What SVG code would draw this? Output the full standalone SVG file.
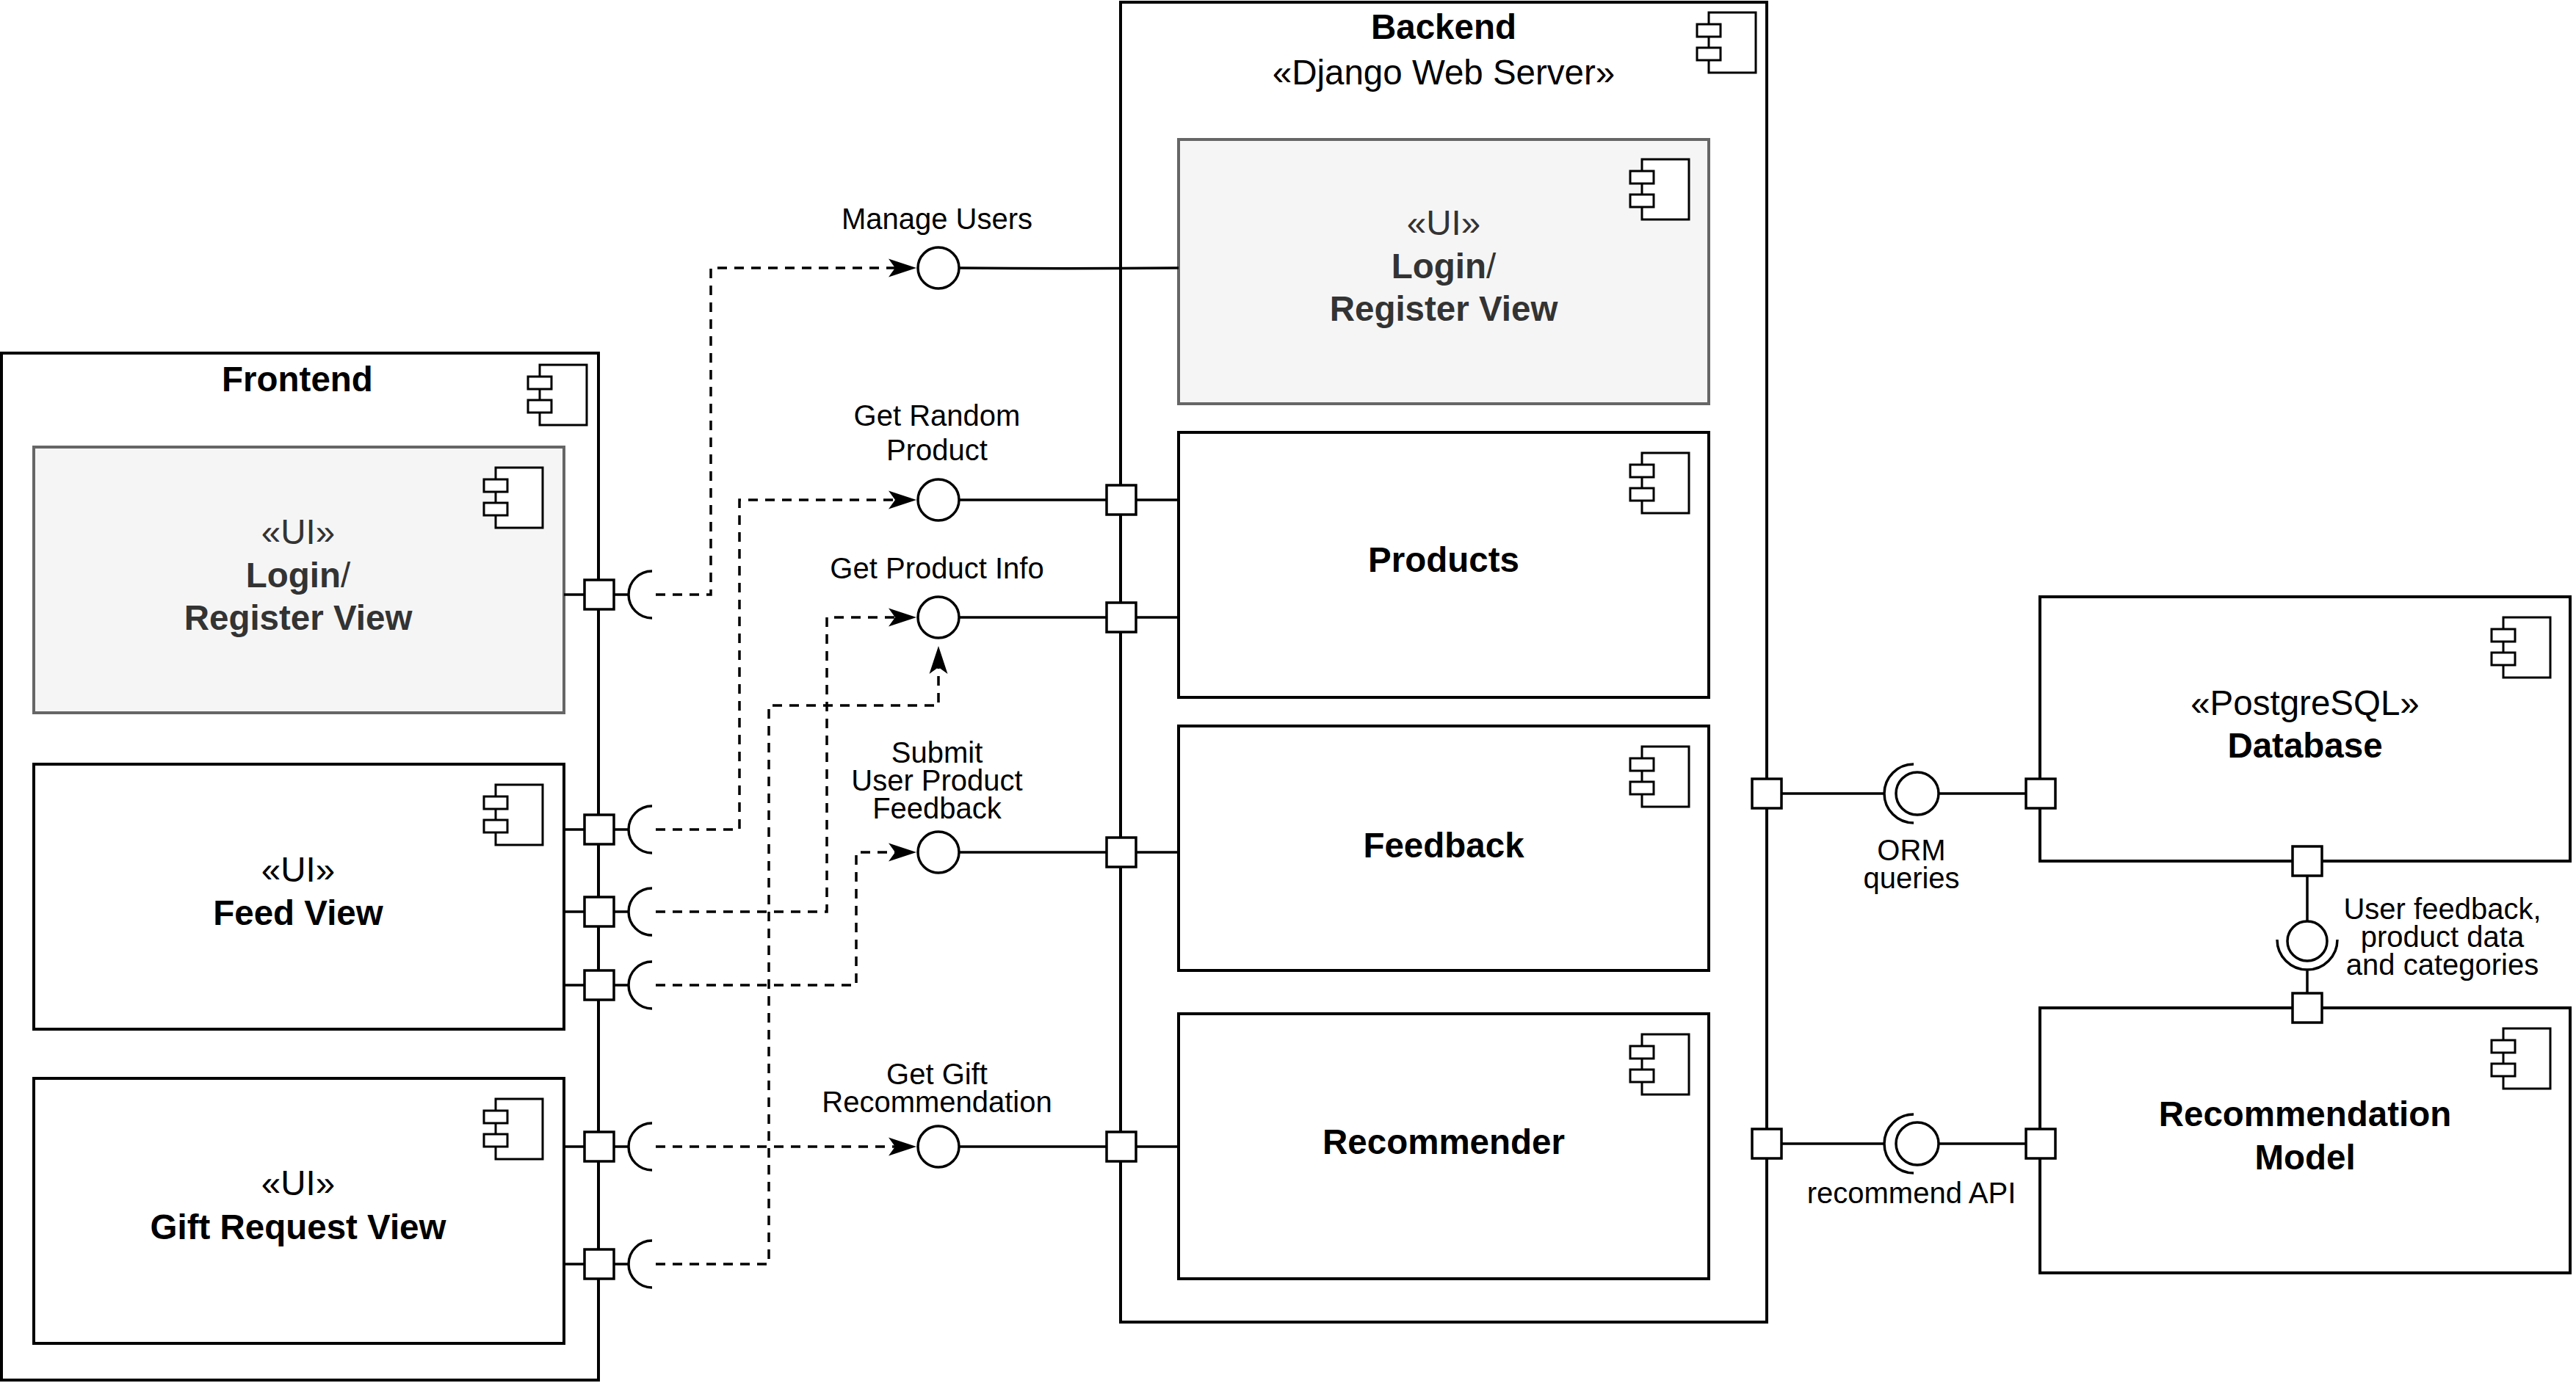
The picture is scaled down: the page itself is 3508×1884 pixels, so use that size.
<svg xmlns="http://www.w3.org/2000/svg" xmlns:xlink="http://www.w3.org/1999/xlink" width="3508" height="1884" viewBox="0 0 3508 1884">
<style>
 .box{fill:#fff;stroke:#000;stroke-width:4}
 .gray{fill:#f5f5f5;stroke:#666;stroke-width:4}
 .ln{fill:none;stroke:#000;stroke-width:3.5}
 .dash{fill:none;stroke:#000;stroke-width:3.5;stroke-dasharray:13 10}
 .port{fill:#fff;stroke:#000;stroke-width:3.5}
 .ball{fill:#fff;stroke:#000;stroke-width:3.5}
 text{font-family:"Liberation Sans",Arial,Helvetica,sans-serif;fill:#000}
 .t{font-size:47.5px;text-anchor:middle}
 .b{font-weight:bold}
 .g{fill:#333}
 .e{font-size:40px;text-anchor:middle}
</style>
<defs>
 <marker id="arr" viewBox="0 0 40 26" markerUnits="userSpaceOnUse" markerWidth="40" markerHeight="26" refX="9" refY="13" orient="auto">
  <path d="M38,13 L0,0.5 L9,13 L0,25.5 Z" fill="#000"/>
 </marker>
 <g id="icon">
  <rect x="0" y="0" width="64" height="82" fill="#fff" stroke="#000" stroke-width="3"/>
  <rect x="-16" y="16" width="32" height="17" fill="#fff" stroke="#000" stroke-width="3"/>
  <rect x="-16" y="48" width="32" height="17" fill="#fff" stroke="#000" stroke-width="3"/>
 </g>
</defs>
<rect x="0" y="0" width="3508" height="1884" fill="#fff"/>

<!-- Frontend -->
<g id="frontend">
 <rect x="2" y="481" width="813" height="1399" class="box"/>
 <text x="405" y="533" class="t b">Frontend</text>
 <use xlink:href="#icon" href="#icon" x="735" y="497"/>
</g>
<g id="fe-login">
 <rect x="46" y="609" width="722" height="362" class="gray"/>
 <use xlink:href="#icon" href="#icon" x="675" y="637"/>
 <text class="t g" x="406" y="741">«UI»</text>
 <text class="t g" x="406" y="799.5"><tspan class="b">Login</tspan>/</text>
 <text class="t b g" x="406" y="858">Register View</text>
</g>
<g id="fe-feed">
 <rect x="46" y="1041" width="722" height="361" class="box"/>
 <use xlink:href="#icon" href="#icon" x="675" y="1069"/>
 <text class="t" x="406" y="1201">«UI»</text>
 <text class="t b" x="406" y="1260">Feed View</text>
</g>
<g id="fe-gift">
 <rect x="46" y="1469" width="722" height="361" class="box"/>
 <use xlink:href="#icon" href="#icon" x="675" y="1497"/>
 <text class="t" x="406" y="1628">«UI»</text>
 <text class="t b" x="406" y="1688">Gift Request View</text>
</g>
<g id="fe-ports">
 <rect x="796" y="790" width="40" height="40" class="port"/>
 <rect x="796" y="1110" width="40" height="40" class="port"/>
 <rect x="796" y="1222" width="40" height="40" class="port"/>
 <rect x="796" y="1322" width="40" height="40" class="port"/>
 <rect x="796" y="1542" width="40" height="40" class="port"/>
 <rect x="796" y="1702" width="40" height="40" class="port"/>
</g>

<!-- Backend -->
<g id="backend">
 <rect x="1526" y="3" width="880" height="1798" class="box"/>
 <text x="1966" y="53" class="t b">Backend</text>
 <text x="1966" y="115" class="t">«Django Web Server»</text>
 <use xlink:href="#icon" href="#icon" x="2327" y="17"/>
</g>
<g id="be-login">
 <rect x="1605" y="190" width="722" height="360" class="gray"/>
 <use xlink:href="#icon" href="#icon" x="2236" y="217"/>
 <text class="t g" x="1966" y="320">«UI»</text>
 <text class="t g" x="1966" y="379"><tspan class="b">Login</tspan>/</text>
 <text class="t b g" x="1966" y="437">Register View</text>
</g>
<g id="products">
 <rect x="1605" y="589" width="722" height="361" class="box"/>
 <use xlink:href="#icon" href="#icon" x="2236" y="617"/>
 <text class="t b" x="1966" y="779">Products</text>
</g>
<g id="feedback">
 <rect x="1605" y="989" width="722" height="333" class="box"/>
 <use xlink:href="#icon" href="#icon" x="2236" y="1017"/>
 <text class="t b" x="1966" y="1168">Feedback</text>
</g>
<g id="recommender">
 <rect x="1605" y="1381" width="722" height="361" class="box"/>
 <use xlink:href="#icon" href="#icon" x="2236" y="1409"/>
 <text class="t b" x="1966" y="1572">Recommender</text>
</g>
<g id="be-ports">
 <rect x="1507" y="661" width="40" height="40" class="port"/>
 <rect x="1507" y="821" width="40" height="40" class="port"/>
 <rect x="1507" y="1141" width="40" height="40" class="port"/>
 <rect x="1507" y="1542" width="40" height="40" class="port"/>
 <rect x="2386" y="1061" width="40" height="40" class="port"/>
 <rect x="2386" y="1538" width="40" height="40" class="port"/>
</g>

<!-- Database -->
<g id="database">
 <rect x="2778" y="813" width="722" height="360" class="box"/>
 <use xlink:href="#icon" href="#icon" x="3409" y="841"/>
 <text class="t" x="3139" y="974">«PostgreSQL»</text>
 <text class="t b" x="3139" y="1032">Database</text>
 <rect x="2759" y="1061" width="40" height="40" class="port"/>
 <rect x="3122" y="1153" width="40" height="40" class="port"/>
</g>

<!-- Recommendation Model -->
<g id="rec-model">
 <rect x="2778" y="1373" width="722" height="361" class="box"/>
 <use xlink:href="#icon" href="#icon" x="3409" y="1401"/>
 <text class="t b" x="3139" y="1534">Recommendation</text>
 <text class="t b" x="3139" y="1593">Model</text>
 <rect x="2759" y="1538" width="40" height="40" class="port"/>
 <rect x="3122" y="1353" width="40" height="40" class="port"/>
</g>

<!-- Connectors -->
<g id="connectors">
 <!-- frontend port stubs and sockets -->
 <path class="ln" d="M768,810 H796 M836,810 H856 M888,778 A32,32 0 0 0 888,842"/>
 <path class="ln" d="M768,1130 H796 M836,1130 H856 M888,1098 A32,32 0 0 0 888,1162"/>
 <path class="ln" d="M768,1242 H796 M836,1242 H856 M888,1210 A32,32 0 0 0 888,1274"/>
 <path class="ln" d="M768,1342 H796 M836,1342 H856 M888,1310 A32,32 0 0 0 888,1374"/>
 <path class="ln" d="M768,1562 H796 M836,1562 H856 M888,1530 A32,32 0 0 0 888,1594"/>
 <path class="ln" d="M768,1722 H796 M836,1722 H856 M888,1690 A32,32 0 0 0 888,1754"/>

 <!-- dashed dependencies -->
 <path class="dash" d="M893,810 H968 V365 H1219" marker-end="url(#arr)"/>
 <path class="dash" d="M893,1130 H1007 V681 H1219" marker-end="url(#arr)"/>
 <path class="dash" d="M893,1242 H1126 V841 H1219" marker-end="url(#arr)"/>
 <path class="dash" d="M893,1342 H1166 V1161 H1219" marker-end="url(#arr)"/>
 <path class="dash" d="M893,1562 H1219" marker-end="url(#arr)"/>
 <path class="dash" d="M893,1722 H1047 V961 H1278 V909" marker-end="url(#arr)"/>

 <!-- provided interfaces of backend -->
 <path class="ln" d="M1306,365 C1420,366 1480,366 1605,365"/>
 <path class="ln" d="M1306,681 H1507 M1547,681 H1605"/>
 <path class="ln" d="M1306,841 H1507 M1547,841 H1605"/>
 <path class="ln" d="M1306,1161 H1507 M1547,1161 H1605"/>
 <path class="ln" d="M1306,1562 H1507 M1547,1562 H1605"/>
 <circle cx="1278" cy="365" r="28" class="ball"/>
 <circle cx="1278" cy="681" r="28" class="ball"/>
 <circle cx="1278" cy="841" r="28" class="ball"/>
 <circle cx="1278" cy="1161" r="28" class="ball"/>
 <circle cx="1278" cy="1562" r="28" class="ball"/>

 <!-- ORM queries -->
 <path class="ln" d="M2426,1081 H2566 M2606,1041 A40,40 0 0 0 2606,1121 M2640,1081 H2759"/>
 <circle cx="2611" cy="1081" r="29" class="ball"/>
 <!-- recommend API -->
 <path class="ln" d="M2426,1558 H2566 M2606,1518 A40,40 0 0 0 2606,1598 M2640,1558 H2759"/>
 <circle cx="2611" cy="1558" r="29" class="ball"/>
 <!-- DB to model -->
 <path class="ln" d="M3142,1193 V1255 M3101,1280 A41,41 0 0 0 3183,1280 M3142,1321 V1353"/>
 <circle cx="3142" cy="1282" r="27" class="ball"/>

 <!-- labels -->
 <text class="e" x="1276" y="312">Manage Users</text>
 <text class="e" x="1276" y="580">Get Random</text>
 <text class="e" x="1276" y="627">Product</text>
 <text class="e" x="1276" y="788">Get Product Info</text>
 <text class="e" x="1276" y="1039">Submit</text>
 <text class="e" x="1276" y="1077">User Product</text>
 <text class="e" x="1276" y="1115">Feedback</text>
 <text class="e" x="1276" y="1477">Get Gift</text>
 <text class="e" x="1276" y="1515">Recommendation</text>
 <text class="e" x="2603" y="1172">ORM</text>
 <text class="e" x="2603" y="1210">queries</text>
 <text class="e" x="2603" y="1639">recommend API</text>
 <text class="e" x="3326" y="1252">User feedback,</text>
 <text class="e" x="3326" y="1290">product data</text>
 <text class="e" x="3326" y="1328">and categories</text>
</g>
</svg>
